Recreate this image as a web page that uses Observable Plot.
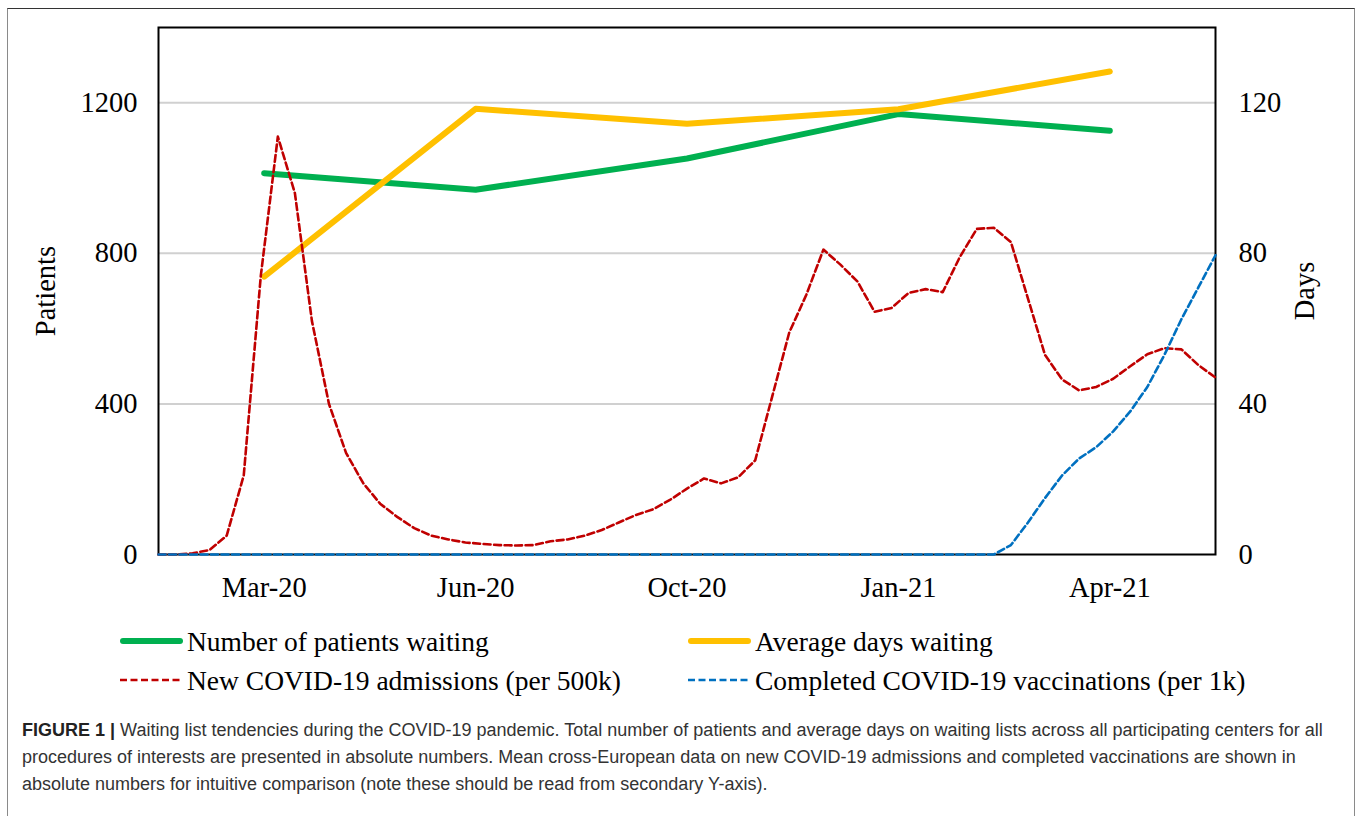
<!DOCTYPE html>
<html>
<head>
<meta charset="utf-8">
<script src="https://cdn.jsdelivr.net/npm/d3@7"></script>
<script src="https://cdn.jsdelivr.net/npm/@observablehq/plot@0.6"></script>
<style>
  html, body { margin: 0; padding: 0; background: #fff; width: 1360px; height: 816px; overflow: hidden; }
  #wrap { position: relative; width: 1360px; height: 816px; }
  #frame { position: absolute; left: 7px; top: 8px; width: 1348px; height: 830px; border: 1.5px solid #8a8a8a; border-top-color: #333; box-sizing: border-box; }
  #chart { position: absolute; left: 0; top: 0; }
  .leg { position: absolute; font-family: "Liberation Serif", "Times New Roman", serif; font-size: 27.5px; line-height: 30px; color: #000; white-space: nowrap; }
  .sw { position: absolute; }
  #caption { position: absolute; left: 22px; top: 717px; width: 1330px; font-family: "Liberation Sans", Arial, sans-serif; font-size: 18px; line-height: 27px; color: #333; white-space: nowrap; }
  #caption b { font-weight: bold; color: #222; }
</style>
</head>
<body>
<div id="wrap">
  <div id="frame"></div>
  <div id="chart"></div>
  <div id="legend"></div>
  <div id="caption"><b>FIGURE 1 |</b> Waiting list tendencies during the COVID-19 pandemic. Total number of patients and average days on waiting lists across all participating centers for all<br>procedures of interests are presented in absolute numbers. Mean cross-European data on new COVID-19 admissions and completed vaccinations are shown in<br>absolute numbers for intuitive comparison (note these should be read from secondary Y-axis).</div>
</div>
<script>
// ---- data ----
const categories = ["Mar-20", "Jun-20", "Oct-20", "Jan-21", "Apr-21"];
const patientsWaiting = [1013, 969, 1052, 1170, 1126];           // left axis (Patients)
const averageDaysWaiting = [73.8, 118.4, 114.4, 118.3, 128.3];   // right axis (Days)

// weekly series, read on secondary (Days) axis
const newAdmissions = [
  0, 0, 0.3, 1.2, 5, 21, 74, 111, 96, 62,
  40, 27, 19, 13.5, 10, 7, 5, 4, 3.2, 2.8,
  2.5, 2.4, 2.5, 3.5, 4, 5, 6.5, 8.5, 10.5, 12,
  14.5, 17.5, 20.2, 18.9, 20.5, 25, 42, 59, 69, 81,
  77, 72.5, 64.5, 65.5, 69.5, 70.5, 69.7, 79, 86.5, 86.8,
  83, 68, 53, 46.5, 43.6, 44.5, 46.7, 50, 53.2, 54.8,
  54.5, 50.3, 47
];
const completedVaccinations = [
  0, 0, 0, 0, 0, 0, 0, 0, 0, 0,
  0, 0, 0, 0, 0, 0, 0, 0, 0, 0,
  0, 0, 0, 0, 0, 0, 0, 0, 0, 0,
  0, 0, 0, 0, 0, 0, 0, 0, 0, 0,
  0, 0, 0, 0, 0, 0, 0, 0, 0, 0,
  2.5, 8.5, 15, 21, 25.5, 28.5, 32.7, 38, 44.5, 53,
  62.5, 71, 79.5
];
const leftTicks = [0, 400, 800, 1200];
const daysToPatients = 10; // secondary axis 0-140 vs primary 0-1400

const seriesNames = {
  patients: "Number of patients waiting",
  days: "Average days waiting",
  adm: "New COVID-19 admissions (per 500k)",
  vac: "Completed COVID-19 vaccinations (per 1k)"
};
const colors = { patients: "#00B050", days: "#FFC000", adm: "#C00000", vac: "#0070C0" };

// ---- tables ----
const catRows = categories.map((c, i) => ({ i, patients: patientsWaiting[i], days: averageDaysWaiting[i] * daysToPatients }));
const nW = newAdmissions.length;
const weekRows = newAdmissions.map((v, k) => ({
  pos: -0.5 + categories.length * k / (nW - 1),
  adm: v * daysToPatients,
  vac: completedVaccinations[k] * daysToPatients
}));

const serif = "'Liberation Serif', 'Times New Roman', serif";
const fs = 28.5;

const chart = Plot.plot({
  width: 1360,
  height: 610,
  marginLeft: 158,
  marginRight: 145,
  marginTop: 27,
  marginBottom: 56,
  x: { domain: [-0.5, categories.length - 0.5], axis: null },
  y: { domain: [0, 1400], axis: null },
  style: { fontFamily: serif, fontSize: fs + "px", color: "#000", background: "transparent", overflow: "visible" },
  marks: [
    Plot.gridY([400, 800, 1200], { stroke: "#d0d0d0", strokeOpacity: 1, strokeWidth: 2 }),
    Plot.frame({ stroke: "#000", strokeWidth: 2 }),
    Plot.axisX([0, 1, 2, 3, 4], { tickFormat: i => categories[i], tickSize: 0, tickPadding: 22, fontSize: fs, label: null }),
    Plot.axisY(leftTicks, { anchor: "left", tickSize: 0, tickPadding: 21, fontSize: fs, tickFormat: d => String(d),
      label: "Patients", labelAnchor: "center", labelOffset: 124, labelArrow: "none" }),
    Plot.axisY(leftTicks, { anchor: "right", tickSize: 0, tickPadding: 23, fontSize: fs, tickFormat: d => String(d / daysToPatients),
      label: "Days", labelAnchor: "center", labelOffset: 98, labelArrow: "none" }),
    Plot.line(catRows, { x: "i", y: "patients", stroke: colors.patients, strokeWidth: 6, strokeLinecap: "round", strokeLinejoin: "round" }),
    Plot.line(catRows, { x: "i", y: "days", stroke: colors.days, strokeWidth: 6, strokeLinecap: "round", strokeLinejoin: "round" }),
    Plot.line(weekRows, { x: "pos", y: "adm", stroke: colors.adm, strokeWidth: 2.6, strokeDasharray: "7,3.5" }),
    Plot.line(weekRows, { x: "pos", y: "vac", stroke: colors.vac, strokeWidth: 2.6, strokeDasharray: "7,3.5" })
  ]
});
document.getElementById("chart").appendChild(chart);

// ---- legend (below the SVG) ----
const legendItems = [
  { key: "patients", x: 120, y: 641, dash: null, w: 6 },
  { key: "days", x: 688, y: 641, dash: null, w: 6 },
  { key: "adm", x: 120, y: 680, dash: "7,3.5", w: 2.6 },
  { key: "vac", x: 688, y: 680, dash: "7,3.5", w: 2.6 }
];
const legend = document.getElementById("legend");
for (const it of legendItems) {
  const sw = document.createElementNS("http://www.w3.org/2000/svg", "svg");
  sw.setAttribute("width", 64); sw.setAttribute("height", 12);
  sw.setAttribute("class", "sw");
  sw.style.left = it.x + "px"; sw.style.top = (it.y - 6) + "px";
  const ln = document.createElementNS("http://www.w3.org/2000/svg", "line");
  ln.setAttribute("x1", it.dash ? 0 : 3); ln.setAttribute("x2", it.dash ? 63 : 60);
  ln.setAttribute("y1", 6); ln.setAttribute("y2", 6);
  ln.setAttribute("stroke", colors[it.key]); ln.setAttribute("stroke-width", it.w);
  if (it.dash) ln.setAttribute("stroke-dasharray", it.dash); else ln.setAttribute("stroke-linecap", "round");
  sw.appendChild(ln);
  legend.appendChild(sw);
  const t = document.createElement("div");
  t.className = "leg";
  t.textContent = seriesNames[it.key];
  t.style.left = (it.x + 67) + "px";
  t.style.top = (it.y - 14) + "px";
  legend.appendChild(t);
}
</script>
</body>
</html>
